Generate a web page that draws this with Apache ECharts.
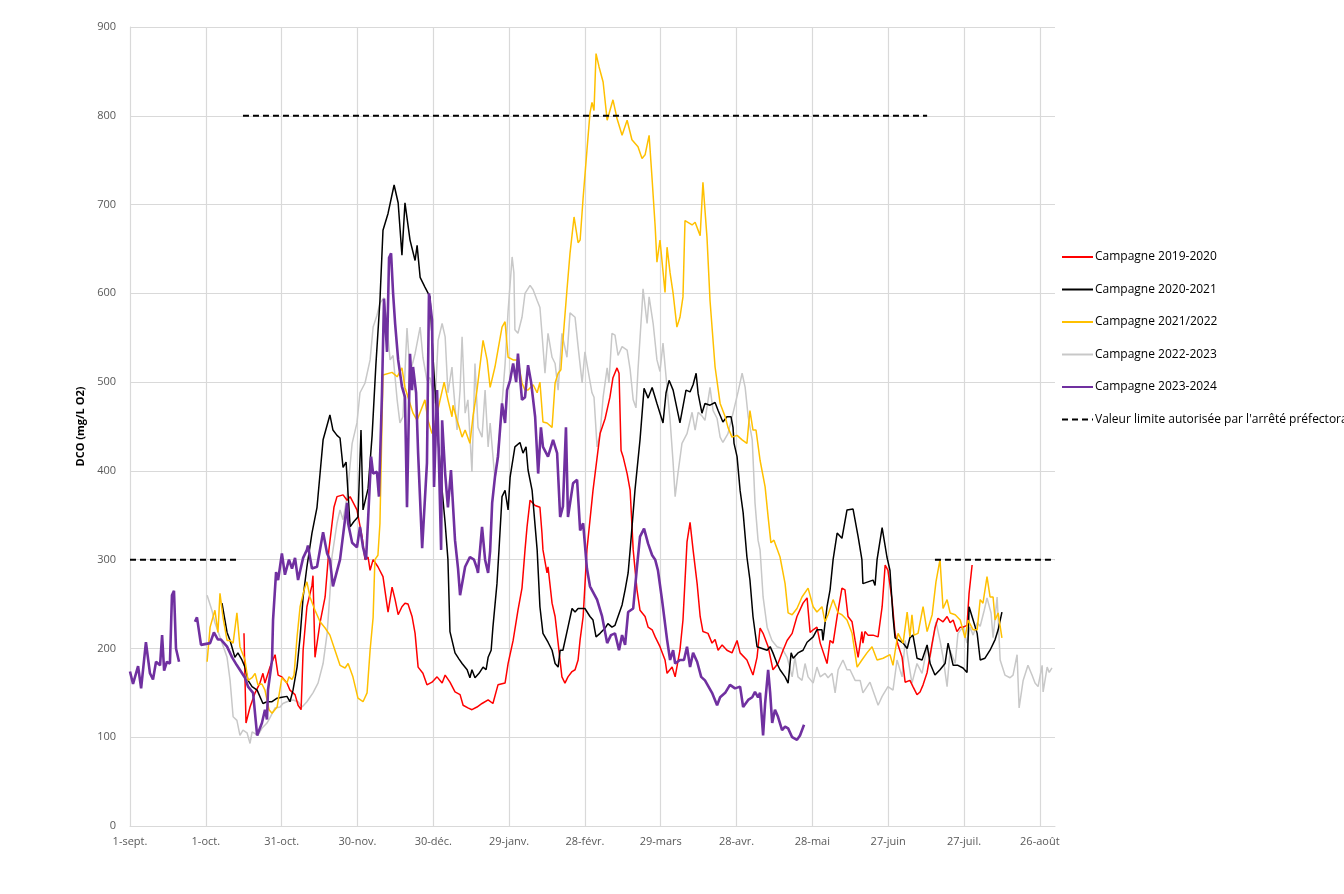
<!DOCTYPE html>
<html>
<head>
<meta charset="utf-8">
<script src="https://cdn.jsdelivr.net/npm/echarts@6/dist/echarts.min.js"></script>
<style>
  html, body { margin: 0; padding: 0; background: #fff; }
  #chart { width: 1344px; height: 894px; }
</style>
</head>
<body>
<div id="chart"></div>
<script>
// x = jours depuis le 1er septembre, y = DCO (mg/L O2)
const tickLabels = ["1-sept.", "1-oct.", "31-oct.", "30-nov.", "30-déc.", "29-janv.", "28-févr.",
  "29-mars", "28-avr.", "28-mai", "27-juin", "27-juil.", "26-août"];

const limite = [[0, 300], [42.3, 300], [43.5, '-'], [44.7, 800], [315.4, 800], [317, '-'], [318.5, 300], [366, 300]];

const c2019 = [[45.1,217],[45.9,116],[47.5,134],[49.5,150],[51.4,161],[52.6,172],[53.4,161],[55.4,179],[57.4,193],
  [58.6,170],[60.1,168],[62.1,161],[63.3,153],[65.3,148],[66.5,136],[67.7,131],[68.5,198],[70.0,247],[72.0,271],
  [72.4,282],[73.2,190],[75.2,229],[77.2,258],[78.7,311],[80.7,359],[81.9,371],[84.3,373],[85.9,367],[87.1,371],
  [89.8,356],[91.8,326],[93.0,300],[94.2,303],[95.0,288],[96.2,300],[98.1,292],[100.1,281],[102.1,241],[103.7,269],
  [104.9,255],[106.1,238],[107.6,247],[108.8,251],[110.0,250],[111.6,236],[112.8,217],[114.0,179],[115.9,172],
  [117.5,159],[119.5,162],[121.5,168],[123.5,161],[124.7,170],[126.6,162],[128.6,151],[130.6,148],[131.8,136],
  [133.7,133],[135.3,131],[137.3,134],[139.3,138],[141.7,142],[143.6,138],[145.6,159],[148.4,161],[149.6,183],
  [151.6,209],[153.5,243],[155.1,268],[156.3,311],[157.1,337],[158.3,367],[160.3,361],[162.2,359],[163.0,330],
  [163.4,311],[165.0,285],[165.4,292],[167.0,251],[168.2,236],[169.4,206],[170.9,168],[172.1,161],[173.3,168],
  [174.9,174],[176.1,176],[177.3,187],[178.1,210],[179.3,236],[180.8,311],[183.2,378],[186.0,442],[188.0,459],
  [189.9,483],[191.1,505],[192.7,516],[193.5,510],[194.3,423],[195.1,416],[196.7,397],[197.9,378],[199.1,311],
  [200.6,266],[201.8,243],[203.8,236],[205.0,224],[206.6,221],[207.8,213],[209.7,202],[211.7,187],[212.5,172],
  [214.5,179],[215.7,168],[217.6,198],[218.8,232],[220.4,320],[221.6,342],[222.8,311],[224.4,273],[225.6,236],
  [226.7,219],[228.7,217],[230.3,206],[231.5,210],[232.7,198],[234.3,204],[236.2,198],[238.2,195],[240.2,209],
  [241.4,195],[244.1,187],[246.5,170],[248.1,190],[249.3,223],[250.5,217],[252.5,202],[254.4,176],[256.4,183],
  [258.4,198],[260.0,209],[262.0,217],[263.9,236],[266.3,251],[267.9,257],[269.1,218],[270.3,221],[271.8,224],
  [273.1,206],[275.8,183],[277.0,209],[278.2,206],[279.8,236],[281.7,268],[282.9,266],[284.1,236],[285.7,230],
  [286.9,209],[288.1,190],[289.6,219],[290.0,206],[290.8,219],[292.0,215],[294.0,215],[296.0,213],[297.6,247],
  [298.8,294],[299.9,288],[301.5,255],[302.7,217],[303.9,204],[305.5,190],[306.7,162],[308.6,164],[309.8,157],
  [311.4,148],[312.6,151],[313.8,159],[315.4,173],[317.4,206],[318.5,223],[319.7,234],[321.7,230],[323.3,236],
  [324.5,229],[325.7,232],[327.2,219],[328.5,224],[329.6,224],[331.2,226],[332.0,262],[333.2,294]];

const c2020 = [[36.4,251],[38.4,218],[39.6,209],[41.5,190],[42.7,195],[44.3,187],[45.5,179],[46.7,164],[48.3,157],
  [50.3,153],[52.6,138],[54.2,140],[56.2,140],[58.2,144],[60.1,145],[62.1,146],[63.3,140],[64.5,153],[66.1,179],
  [67.3,213],[68.5,258],[70.0,292],[72.0,330],[74.0,359],[76.4,435],[79.1,463],[80.3,446],[81.9,440],[83.1,437],
  [84.3,404],[85.5,410],[87.1,337],[88.6,343],[90.2,348],[91.4,446],[92.2,356],[94.2,380],[95.8,440],[97.3,520],
  [98.9,592],[100.1,671],[102.1,690],[104.5,722],[106.1,702],[107.6,643],[108.8,702],[110.8,660],[112.8,637],
  [113.6,654],[114.8,618],[116.7,607],[118.7,596],[119.9,528],[120.7,491],[121.9,435],[123.5,378],[124.7,341],
  [125.8,300],[126.6,219],[128.6,195],[130.2,188],[131.4,183],[133.4,176],[134.5,167],[135.3,176],[136.5,167],
  [138.1,172],[139.7,179],[140.9,176],[141.7,190],[142.9,198],[143.6,224],[145.2,273],[146.0,311],[147.2,371],
  [148.4,378],[149.6,356],[150.4,393],[152.3,427],[154.3,432],[155.5,420],[156.7,427],[157.5,401],[159.1,378],
  [161.1,311],[162.2,247],[163.4,217],[165.4,207],[167.0,198],[168.2,183],[169.4,179],[170.2,198],[171.3,198],
  [173.3,224],[174.9,245],[176.1,241],[177.3,245],[178.9,245],[180.0,245],[182.0,236],[183.2,232],[184.4,213],
  [186.0,217],[188.0,223],[189.1,228],[190.7,224],[191.9,226],[193.1,236],[194.7,249],[195.9,266],[197.1,285],
  [197.9,311],[199.8,378],[201.8,435],[203.4,493],[205.0,482],[206.6,494],[208.5,476],[210.9,454],[212.1,488],
  [213.3,502],[214.9,491],[217.6,454],[220.0,491],[221.6,489],[222.8,497],[224.0,510],[224.8,487],[226.3,465],
  [227.5,476],[229.5,474],[231.5,477],[232.7,468],[234.6,455],[236.2,461],[237.8,461],[238.6,449],[239.0,431],
  [240.2,416],[241.4,378],[242.6,353],[244.1,303],[245.3,277],[246.5,236],[248.1,202],[250.1,200],[252.1,198],
  [253.3,202],[254.4,195],[256.0,183],[257.2,176],[259.2,168],[260.4,161],[261.6,195],[262.4,189],[264.3,195],
  [266.3,198],[267.9,207],[270.3,213],[271.8,221],[273.8,221],[274.2,209],[275.8,247],[277.0,266],[278.2,300],
  [279.8,330],[281.7,324],[283.7,356],[286.1,357],[288.1,326],[289.6,300],[290.0,273],[292.0,275],[294.0,277],
  [294.8,271],[295.6,300],[297.6,336],[299.5,303],[300.7,288],[301.9,236],[302.7,212],[303.9,210],[305.9,206],
  [307.5,200],[308.6,212],[309.8,215],[311.4,189],[313.4,187],[315.4,204],[316.6,183],[318.5,170],[320.5,176],
  [322.5,183],[323.7,206],[325.7,181],[327.6,181],[329.6,178],[331.2,173],[332.0,247],[333.6,232],[335.2,217],
  [336.4,187],[338.3,189],[340.3,198],[342.3,210],[343.5,221],[345.0,241]];

const c2021 = [[30.5,185],[31.7,224],[33.6,243],[34.8,218],[35.6,262],[36.8,235],[38.4,209],[39.6,209],[40.8,206],
  [42.3,240],[43.5,202],[45.5,187],[46.7,164],[48.3,167],[49.5,172],[50.6,159],[52.2,160],[53.4,153],[55.0,131],
  [56.2,127],[58.2,134],[60.1,167],[62.1,161],[62.9,168],[64.1,165],[64.9,170],[66.1,213],[67.3,247],[68.9,266],
  [70.0,275],[71.2,258],[73.2,243],[75.2,230],[77.2,223],[79.1,215],[81.1,198],[83.1,181],[85.1,178],[86.3,183],
  [88.2,168],[90.2,144],[92.2,140],[93.8,150],[95.0,198],[96.2,235],[96.9,300],[98.1,305],[98.9,341],[100.1,508],
  [103.7,511],[105.7,506],[107.6,516],[108.8,494],[110.0,483],[112.0,465],[113.6,457],[114.8,466],[116.7,480],
  [117.9,457],[119.5,442],[120.7,454],[122.7,480],[124.3,500],[125.8,480],[127.4,461],[127.8,474],[129.4,457],
  [130.6,446],[131.4,438],[132.6,446],[134.5,431],[135.7,461],[137.3,491],[139.7,547],[141.3,525],[142.5,494],
  [144.4,517],[147.2,562],[148.4,568],[149.6,528],[151.6,525],[153.5,525],[155.1,499],[156.3,491],[157.5,491],
  [159.5,497],[161.1,488],[162.2,500],[163.4,455],[165.0,454],[167.0,449],[168.2,499],[169.4,510],[170.5,514],
  [171.3,547],[172.9,604],[174.1,645],[175.7,686],[177.3,657],[178.1,660],[179.3,708],[180.8,761],[182.0,803],
  [182.8,815],[183.6,806],[184.4,870],[185.6,855],[187.2,838],[188.8,795],[189.9,806],[191.1,818],[192.7,797],
  [194.7,778],[196.7,795],[198.6,773],[201.0,765],[202.6,752],[203.8,756],[205.4,778],[206.6,728],[207.8,675],
  [208.5,635],[209.7,660],[211.7,601],[212.5,652],[213.7,623],[214.9,600],[216.4,562],[217.6,573],[218.8,596],
  [219.6,682],[222.4,677],[223.6,680],[225.6,665],[226.7,725],[228.3,663],[229.5,592],[231.5,517],[233.5,476],
  [235.5,461],[236.6,449],[238.2,438],[240.2,440],[242.2,435],[244.1,431],[245.3,468],[246.5,446],[247.7,446],
  [249.3,412],[251.3,382],[252.5,348],[253.6,319],[254.8,322],[257.2,303],[259.2,273],[260.4,240],[262.0,238],
  [263.9,245],[265.9,258],[268.3,268],[270.3,247],[271.8,241],[273.8,247],[275.0,230],[276.2,238],[278.2,255],
  [280.2,240],[281.7,238],[283.7,232],[285.7,217],[287.7,179],[289.6,187],[291.6,195],[293.6,202],[295.6,187],
  [298.0,189],[300.7,193],[301.9,181],[302.7,196],[303.9,217],[305.9,206],[307.5,241],[308.6,213],[309.4,238],
  [310.2,215],[311.8,217],[313.8,247],[315.4,219],[317.4,238],[318.9,275],[320.5,300],[321.7,245],[323.3,255],
  [324.5,240],[326.5,238],[328.5,232],[330.4,212],[331.6,232],[333.6,221],[335.2,221],[336.4,255],[337.5,251],
  [339.1,281],[340.3,258],[341.5,258],[342.3,232],[343.5,240],[345.0,212]];

const c2022 = [[30.5,260],[32.4,243],[33.6,229],[35.6,213],[38.4,190],[39.6,164],[40.8,123],[42.3,119],[43.5,102],
  [44.7,108],[46.3,105],[47.5,93],[48.3,106],[49.5,104],[50.6,102],[52.2,110],[54.2,116],[55.4,122],[57.4,133],
  [59.4,134],[60.5,138],[62.1,140],[64.5,142],[66.5,140],[68.1,134],[70.0,140],[72.4,150],[74.4,161],[76.4,183],
  [78.0,217],[79.1,262],[79.9,303],[81.9,341],[83.1,356],[84.3,345],[85.9,371],[87.9,431],[89.8,454],[91.0,488],
  [93.0,499],[95.0,525],[96.2,562],[97.7,575],[98.9,589],[100.5,595],[101.7,564],[102.9,525],[104.1,530],
  [105.7,480],[106.8,454],[108.0,461],[109.6,561],[110.8,510],[112.8,532],[114.8,562],[115.9,528],[117.5,502],
  [118.7,505],[120.7,476],[121.9,547],[123.5,566],[124.7,551],[125.8,488],[127.4,517],[127.8,500],[129.4,446],
  [130.6,491],[131.4,551],[132.6,465],[133.7,480],[135.3,399],[136.5,521],[137.7,449],[139.3,438],[140.5,491],
  [141.7,427],[142.5,454],[144.4,390],[146.4,446],[148.4,520],[149.6,580],[151.2,641],[151.9,623],[152.3,559],
  [153.5,555],[155.1,573],[156.3,600],[158.3,609],[159.5,604],[161.1,592],[162.2,584],[163.0,555],[164.2,510],
  [165.4,555],[167.0,528],[168.2,521],[169.4,491],[170.9,555],[172.9,528],[174.1,578],[176.1,573],[177.3,540],
  [178.9,499],[180.0,534],[181.2,514],[182.8,488],[183.6,483],[184.8,427],[186.0,442],[187.2,483],[188.8,516],
  [189.5,499],[190.7,555],[191.9,553],[193.1,530],[194.7,540],[196.7,536],[197.9,514],[199.1,480],[200.2,471],
  [201.0,514],[202.6,585],[203.0,605],[204.6,566],[205.4,596],[207.0,566],[208.5,525],[209.7,512],[210.9,544],
  [212.1,506],[213.7,457],[214.9,409],[215.7,371],[216.8,397],[218.4,431],[220.4,442],[222.4,466],[223.6,446],
  [224.8,466],[226.3,462],[227.5,457],[229.5,494],[230.7,468],[232.3,459],[233.5,438],[234.6,432],[236.6,442],
  [238.6,465],[240.6,489],[242.2,510],[243.4,494],[244.6,461],[246.2,435],[247.3,364],[248.5,322],[249.3,311],
  [250.5,258],[252.1,224],[254.0,209],[256.0,202],[258.0,200],[260.0,190],[262.0,168],[263.1,190],[264.3,168],
  [265.9,164],[267.1,183],[268.3,168],[270.3,161],[271.8,179],[273.1,168],[275.0,172],[276.2,167],[277.8,172],
  [279.0,150],[280.2,176],[282.1,187],[283.7,176],[284.9,176],[286.9,164],[288.9,164],[290.0,150],[292.8,162],
  [294.8,146],[296.0,136],[297.6,146],[299.9,157],[301.9,153],[303.5,187],[305.5,168],[306.7,209],[307.9,187],
  [309.4,161],[311.4,183],[313.4,172],[315.4,202],[316.6,190],[318.9,230],[320.5,209],[321.7,190],[323.3,157],
  [324.5,198],[326.5,183],[327.6,217],[329.6,224],[331.2,206],[332.4,224],[333.6,215],[335.2,229],[336.4,225],
  [338.0,243],[339.1,257],[340.7,240],[341.5,212],[343.1,258],[344.3,187],[346.2,170],[348.2,167],[349.4,170],
  [351.0,193],[351.8,133],[353.4,164],[355.3,181],[356.9,170],[358.1,161],[359.3,157],[360.9,181],[361.3,151],
  [362.9,179],[363.7,173],[364.8,178]];

const c2023 = [[0,174],[1.2,160],[3.2,180],[4.4,155],[6.3,207],[7.9,172],[9.1,165],[10.3,185],[11.9,181],[12.7,215],
  [13.5,175],[14.6,185],[15.8,183],[16.6,260],[17.4,265],[18.2,200],[19.4,185],[22.5,'-'],
  [25.7,230],[26.5,235],[28.1,204],[31.7,206],[33.2,218],[34.8,210],[36.0,210],[38.4,202],[40.4,190],[42.3,181],
  [45.5,167],[46.7,157],[48.7,150],[50.3,102],[52.2,116],[53.4,131],[54.2,120],[54.6,153],[56.2,187],[56.6,232],
  [57.8,286],[58.6,277],[60.1,307],[61.3,283],[62.9,300],[64.1,290],[65.3,302],[66.5,277],[68.5,302],[70.0,311],
  [70.4,316],[72.0,290],[74.0,292],[76.4,331],[78.0,307],[79.1,300],[80.3,270],[83.1,300],[85.9,364],[86.3,341],
  [87.9,319],[89.8,314],[91.0,337],[92.2,314],[93.4,300],[94.2,345],[95.4,416],[96.2,397],[97.7,399],[98.5,371],
  [99.7,487],[100.5,594],[101.7,534],[102.5,640],[103.3,645],[104.1,600],[104.9,566],[106.1,525],[107.6,495],
  [108.8,483],[109.6,359],[110.8,532],[111.6,491],[112.0,517],[113.2,488],[114.0,420],[115.6,313],[117.5,409],
  [118.3,600],[119.5,570],[120.3,382],[121.5,491],[122.3,404],[123.1,311],[123.5,457],[124.7,397],[125.8,359],
  [127.0,401],[128.6,322],[129.8,290],[130.6,260],[132.6,292],[134.5,303],[136.1,300],[137.3,290],[137.7,285],
  [139.3,337],[140.5,300],[141.7,285],[142.5,310],[143.3,364],[144.4,393],[145.6,416],[147.2,476],[148.4,454],
  [149.2,491],[150.4,502],[151.6,521],[152.8,500],[153.5,532],[155.1,480],[156.3,483],[157.5,519],[158.7,500],
  [160.3,461],[161.5,397],[162.6,449],[163.4,427],[165.4,416],[167.4,435],[169.0,420],[170.2,348],[171.3,360],
  [172.5,449],[173.3,348],[175.3,386],[176.9,390],[178.1,333],[179.3,341],[180.8,290],[182.0,270],[184.8,255],
  [186.8,236],[188.8,206],[190.3,215],[191.9,217],[193.5,198],[194.7,215],[195.9,204],[197.1,241],[199.1,245],
  [200.6,292],[201.8,326],[203.4,335],[205.0,318],[206.6,305],[207.8,300],[208.9,288],[210.5,255],[212.5,210],
  [213.7,187],[214.9,198],[215.7,183],[217.6,187],[219.2,187],[220.4,202],[221.6,179],[222.8,195],[224.4,185],
  [226.0,168],[227.5,164],[230.3,150],[232.3,136],[233.5,145],[235.5,150],[237.4,159],[239.4,155],[241.4,157],
  [242.6,134],[244.6,142],[246.2,145],[247.3,151],[248.5,145],[249.3,150],[250.5,102],[251.3,138],[252.5,176],
  [253.3,150],[254.1,116],[255.2,131],[256.4,123],[258.0,108],[259.2,112],[260.4,110],[262.0,100],[263.9,97],
  [265.1,102],[266.7,114]];

const seriesNames = ["Campagne 2019-2020", "Campagne 2020-2021", "Campagne 2021/2022", "Campagne 2022-2023",
  "Campagne 2023-2024", "Valeur limite autorisée par l'arrêté préfectoral"];
const seriesData = [c2019, c2020, c2021, c2022, c2023, limite];
const colors = ["#ff0000", "#000000", "#ffc000", "#c8c8c8", "#7030a0", "#000000"];
const widths = [1.5, 1.5, 1.5, 1.5, 2.6, 2];

const chart = echarts.init(document.getElementById('chart'));
const font = "'Open Sans', 'Liberation Sans', sans-serif";

const option = {
  backgroundColor: '#ffffff',
  animation: false,
  grid: { left: 130, top: 27, right: 289, bottom: 68 },
  legend: {
    orient: 'vertical',
    left: 1056,
    top: 246,
    itemWidth: 31,
    itemHeight: 12,
    itemGap: 20.5,
    itemStyle: { opacity: 0 },
    textStyle: { fontFamily: font, fontSize: 12, color: '#000', padding: [0, 0, 0, -3] },
    data: seriesNames
  },
  xAxis: {
    type: 'value',
    min: 0,
    max: 366,
    interval: 30,
    axisLine: { show: true, lineStyle: { color: '#d9d9d9', width: 1 } },
    axisTick: { show: false },
    axisLabel: {
      fontFamily: font, fontSize: 11, color: '#595959', margin: 10,
      formatter: v => (v % 30 === 0 ? tickLabels[v / 30] || '' : '')
    },
    splitLine: { show: true, showMaxLine: false, lineStyle: { color: '#d9d9d9', width: 1.2 } }
  },
  yAxis: {
    type: 'value',
    min: 0,
    max: 900,
    interval: 100,
    name: 'DCO (mg/L O2)',
    nameLocation: 'middle',
    nameGap: 38,
    nameTextStyle: { fontFamily: font, fontSize: 11, fontWeight: 'bold', color: '#000' },
    axisLine: { show: true, lineStyle: { color: '#d9d9d9', width: 1 } },
    axisTick: { show: false },
    axisLabel: { fontFamily: font, fontSize: 11, color: '#595959', margin: 14 },
    splitLine: { show: true, lineStyle: { color: '#d9d9d9', width: 1.2 } }
  },
  series: seriesNames.map((name, i) => ({
    name: name,
    type: 'line',
    data: seriesData[i],
    showSymbol: false,
    symbol: 'none',
    connectNulls: false,
    color: colors[i],
    z: i === 3 ? 1 : 2 + i,
    lineStyle: {
      color: colors[i],
      width: widths[i],
      type: i === 5 ? [6, 4] : 'solid'
    }
  }))
};

chart.setOption(option);
</script>
</body>
</html>
